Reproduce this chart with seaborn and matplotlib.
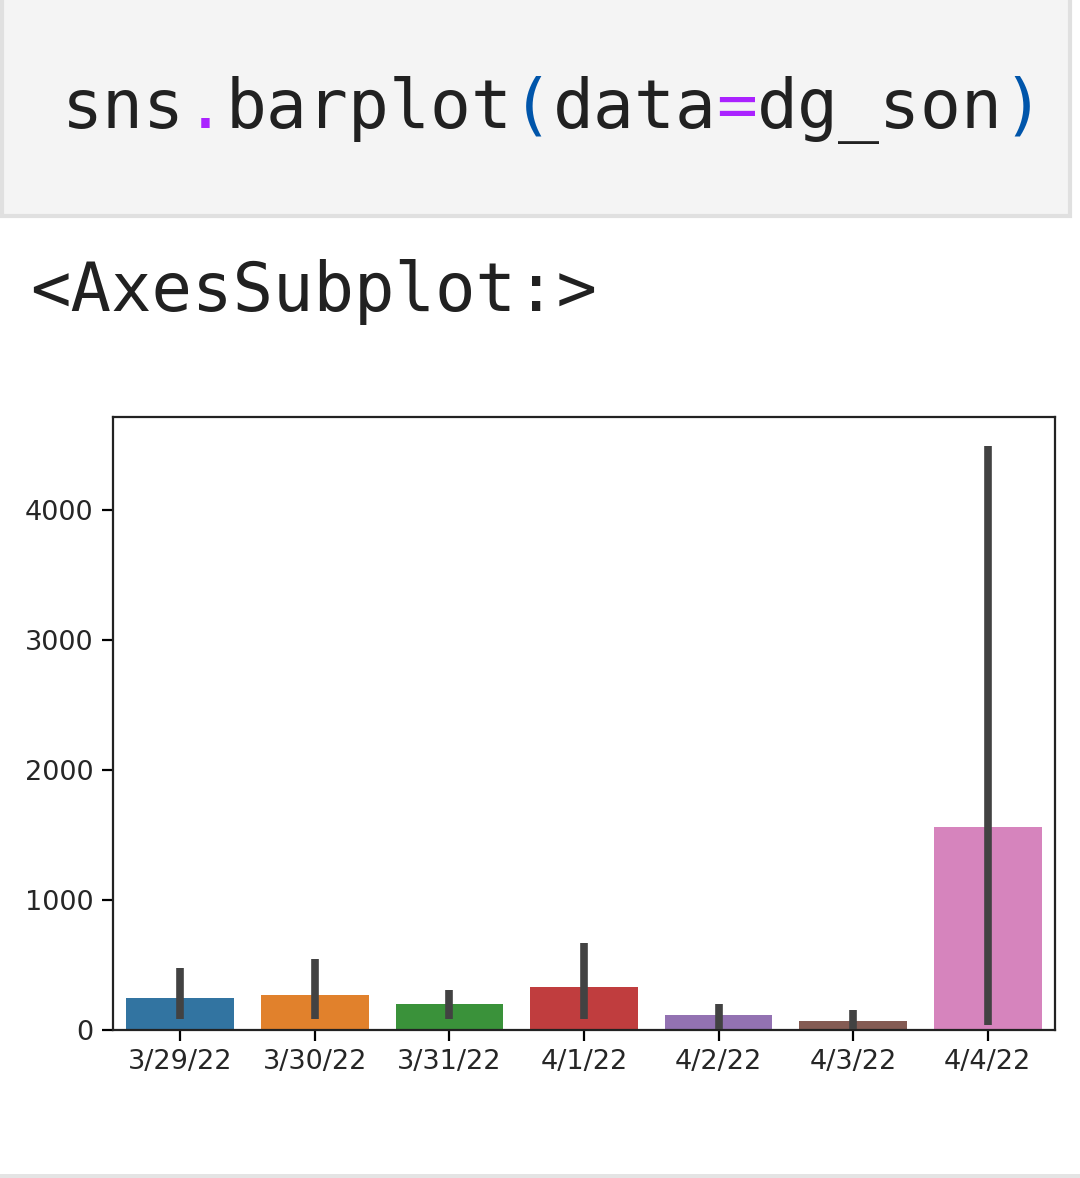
import matplotlib
matplotlib.use('Agg')
import matplotlib.pyplot as plt
from matplotlib.patches import Rectangle
import pandas as pd
import seaborn as sns

# ── DATA ───────────────────────────────────────────────────────────────────
dates   = ['3/29/22', '3/30/22', '3/31/22', '4/1/22', '4/2/22', '4/3/22', '4/4/22']
means   = [246, 269, 200, 331, 115, 69, 1562]
ci_low  = [85, 85, 85, 85, 10, 10, 38]
ci_high = [477, 546, 308, 669, 200, 154, 4490]

palette = sns.color_palette('tab10', len(dates))

plt.rcParams['font.family'] = ['DejaVu Sans']

W, H = 1080, 1178
fig = plt.figure(figsize=(W / 100, H / 100), dpi=100)
fig.patch.set_facecolor('white')

# ── notebook cell chrome ───────────────────────────────────────────────────
fig.patches.append(Rectangle((2 / W, 1 - 216 / H), 1068 / W, 216 / H + 0.01,
                             transform=fig.transFigure, facecolor='#f4f4f4',
                             edgecolor='#e0e0e0', linewidth=3, zorder=0))
fig.patches.append(Rectangle((0, 0), 1, 4 / H, transform=fig.transFigure,
                             facecolor='#e4e4e4', edgecolor='none', zorder=0))

mono = dict(family='DejaVu Sans Mono', fontsize=49, va='baseline')
code = [('sns', '#212121'), ('.', '#aa22ff'), ('barplot', '#212121'),
        ('(', '#0055aa'), ('data', '#212121'), ('=', '#aa22ff'),
        ('dg_son', '#212121'), (')', '#0055aa')]
char_w = 40.9
x = 62
for txt, col in code:
    fig.text(x / W, 1 - 128 / H, txt, color=col, **mono)
    x += char_w * len(txt)

fig.text(30 / W, 1 - 311 / H, '<AxesSubplot:>', color='#212121',
         family='DejaVu Sans Mono', fontsize=48.4, va='baseline')

# ── chart ──────────────────────────────────────────────────────────────────
ax = fig.add_axes([113 / W, 1 - 1030 / H, 942 / W, 613 / H])
df = pd.DataFrame({'date': dates, 'value': means})
sns.barplot(data=df, x='date', y='value', hue='date', palette=palette,
            legend=False, errorbar=None, ax=ax)
ax.vlines(range(len(dates)), ci_low, ci_high, color='.26', linewidth=5.5,
          zorder=3)
ax.set_xlim(-0.5, len(dates) - 0.5)

ax.set_xlabel('')
ax.set_ylabel('')
ax.set_yticks([0, 1000, 2000, 3000, 4000])
ax.tick_params(labelsize=19.5, labelcolor='#262626', length=8, width=1.6,
               pad=6)
for sp in ax.spines.values():
    sp.set_linewidth(1.6)
    sp.set_color('#222222')

fig.savefig('out.png', dpi=100)
